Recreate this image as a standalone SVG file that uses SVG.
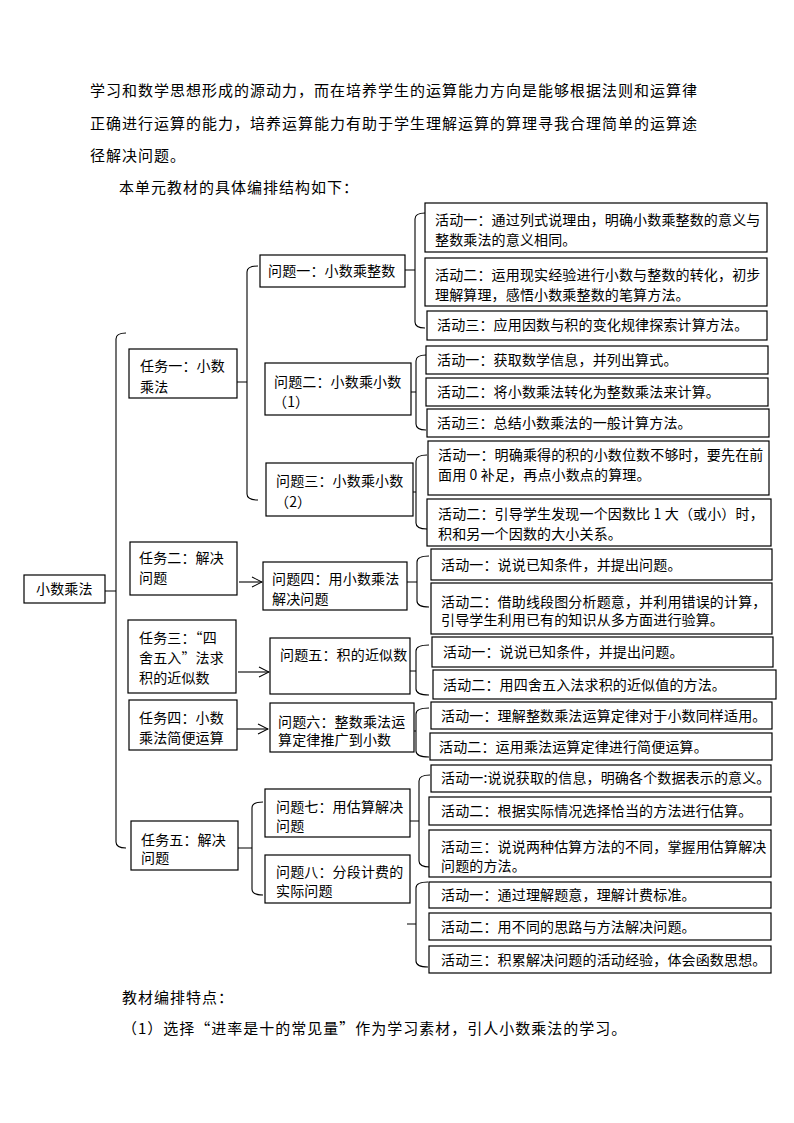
<svg xmlns="http://www.w3.org/2000/svg" width="794" height="1123" viewBox="0 0 794 1123">
<defs>
<style>
text{font-family:"Noto Sans CJK SC","Noto Sans",sans-serif;fill:#000}
.b{font-size:15px;letter-spacing:1px}
.t{font-size:14px;letter-spacing:0.15px}
.box{fill:#fff;stroke:#000;stroke-width:1.2}
.ln{fill:none;stroke:#000;stroke-width:1.1}
</style>
<marker id="arr" markerUnits="userSpaceOnUse" markerWidth="12" markerHeight="12" refX="11" refY="6" orient="auto">
<path d="M1,1 L11,6 L1,11" fill="none" stroke="#000" stroke-width="1.1"/>
</marker>
</defs>
<rect width="794" height="1123" fill="#fff"/>
<g id="body-text">
<text class="b" x="90" y="96">学习和数学思想形成的源动力，而在培养学生的运算能力方向是能够根据法则和运算律</text>
<text class="b" x="90" y="129">正确进行运算的能力，培养运算能力有助于学生理解运算的算理寻我合理简单的运算途</text>
<text class="b" x="90" y="161">径解决问题。</text>
<text class="b" x="119" y="193">本单元教材的具体编排结构如下：</text>
<text class="b" x="122" y="1003">教材编排特点：</text>
<text class="b" x="122" y="1034">（1）选择“进率是十的常见量”作为学习素材，引人小数乘法的学习。</text>
</g>
<g id="connectors">
<path class="ln" d="M126,333 Q116,333 116,339 V842 Q116,848 126,848 M105,591 H116"/>
<path class="ln" d="M258,266 Q247,266 247,272 V494 Q247,500 258,500 M237,382 H247"/>
<path class="ln" d="M263,802 Q252,802 252,808 V889 Q252,895 263,895 M238,848 H252"/>
<path class="ln" d="M425,213 Q415,213 415,219 V322 Q415,328 425,328 M405,270 H415"/>
<path class="ln" d="M426,355 Q416,355 416,361 V424 Q416,430 426,430 M411,392 H416"/>
<path class="ln" d="M427,455 Q416,455 416,461 V523 Q416,529 427,529 M413,492 H416"/>
<path class="ln" d="M429,556 Q417,556 417,562 V601 Q417,607 429,607 M407,582 H417"/>
<path class="ln" d="M429,645 Q416,645 416,651 V689 Q416,695 429,695 M410,671 H416"/>
<path class="ln" d="M429,708 Q416,708 416,714 V751 Q416,757 429,757 M414,731 H416"/>
<path class="ln" d="M430,775 Q419,775 419,781 V861 Q419,867 430,867 M410,821 H419"/>
<path class="ln" d="M428,882 Q416,882 416,888 V961 Q416,967 428,967 M407,924 H416"/>
<path class="ln" d="M239,582 H262" marker-end="url(#arr)"/>
<path class="ln" d="M238,672 H269" marker-end="url(#arr)"/>
<path class="ln" d="M237,729 H268" marker-end="url(#arr)"/>
</g>
<g id="root"><rect class="box" x="24" y="575" width="81" height="28"/><text class="t" x="36" y="594">小数乘法</text></g>
<g id="task1"><rect class="box" x="129" y="349" width="108" height="49"/><text class="t" x="140" y="371">任务一：小数</text><text class="t" x="140" y="392">乘法</text></g>
<g id="task2"><rect class="box" x="130" y="542" width="107" height="53"/><text class="t" x="139" y="563">任务二：解决</text><text class="t" x="139" y="583">问题</text></g>
<g id="task3"><rect class="box" x="128" y="620" width="108" height="73"/><text class="t" x="139" y="643">任务三：“四</text><text class="t" x="139" y="663">舍五入”法求</text><text class="t" x="139" y="683">积的近似数</text></g>
<g id="task4"><rect class="box" x="129" y="700" width="108" height="50"/><text class="t" x="139" y="723">任务四：小数</text><text class="t" x="139" y="743">乘法简便运算</text></g>
<g id="task5"><rect class="box" x="131" y="821" width="107" height="49"/><text class="t" x="141" y="845">任务五：解决</text><text class="t" x="141" y="863">问题</text></g>
<g id="q1"><rect class="box" x="260" y="255" width="145" height="32"/><text class="t" x="268" y="276">问题一：小数乘整数</text></g>
<g id="q2"><rect class="box" x="265" y="363" width="146" height="52"/><text class="t" x="274" y="387">问题二：小数乘小数</text><text class="t" x="273" y="407">（1）</text></g>
<g id="q3"><rect class="box" x="266" y="463" width="147" height="53"/><text class="t" x="276" y="486">问题三：小数乘小数</text><text class="t" x="275" y="507">（2）</text></g>
<g id="q4"><rect class="box" x="263" y="562" width="144" height="48"/><text class="t" x="272" y="584">问题四：用小数乘法</text><text class="t" x="272" y="604">解决问题</text></g>
<g id="q5"><rect class="box" x="270" y="638" width="140" height="56"/><text class="t" x="280" y="660">问题五：积的近似数</text></g>
<g id="q6"><rect class="box" x="270" y="703" width="144" height="49"/><text class="t" x="278" y="727">问题六：整数乘法运</text><text class="t" x="278" y="745">算定律推广到小数</text></g>
<g id="q7"><rect class="box" x="265" y="789" width="145" height="48"/><text class="t" x="276" y="812">问题七：用估算解决</text><text class="t" x="276" y="831">问题</text></g>
<g id="q8"><rect class="box" x="265" y="855" width="145" height="48"/><text class="t" x="276" y="877">问题八：分段计费的</text><text class="t" x="276" y="896">实际问题</text></g>
<g id="a1"><rect class="box" x="425" y="203" width="342" height="49"/><text class="t" x="435" y="225">活动一：通过列式说理由，明确小数乘整数的意义与</text><text class="t" x="435" y="245">整数乘法的意义相同。</text></g>
<g id="a2"><rect class="box" x="425" y="258" width="342" height="48"/><text class="t" x="435" y="280">活动二：运用现实经验进行小数与整数的转化，初步</text><text class="t" x="435" y="300">理解算理，感悟小数乘整数的笔算方法。</text></g>
<g id="a3"><rect class="box" x="427" y="311" width="340" height="29"/><text class="t" x="437" y="330">活动三：应用因数与积的变化规律探索计算方法。</text></g>
<g id="b1"><rect class="box" x="426" y="346" width="342" height="28"/><text class="t" x="437" y="365">活动一：获取数学信息，并列出算式。</text></g>
<g id="b2"><rect class="box" x="426" y="378" width="342" height="28"/><text class="t" x="437" y="397">活动二：将小数乘法转化为整数乘法来计算。</text></g>
<g id="b3"><rect class="box" x="427" y="409" width="342" height="28"/><text class="t" x="437" y="428">活动三：总结小数乘法的一般计算方法。</text></g>
<g id="c1"><rect class="box" x="428" y="441" width="341" height="54"/><text class="t" x="438" y="460">活动一：明确乘得的积的小数位数不够时，要先在前</text><text class="t" x="438" y="480">面用 0 补足，再点小数点的算理。</text></g>
<g id="c2"><rect class="box" x="427" y="499" width="344" height="47"/><text class="t" x="438" y="519">活动二：引导学生发现一个因数比 1 大（或小）时，</text><text class="t" x="438" y="539">积和另一个因数的大小关系。</text></g>
<g id="d1"><rect class="box" x="431" y="549" width="341" height="31"/><text class="t" x="441" y="570">活动一：说说已知条件，并提出问题。</text></g>
<g id="d2"><rect class="box" x="431" y="583" width="341" height="51"/><text class="t" x="441" y="607">活动二：借助线段图分析题意，并利用错误的计算，</text><text class="t" x="441" y="625">引导学生利用已有的知识从多方面进行验算。</text></g>
<g id="e1"><rect class="box" x="432" y="637" width="341" height="30"/><text class="t" x="443" y="657">活动一：说说已知条件，并提出问题。</text></g>
<g id="e2"><rect class="box" x="433" y="670" width="343" height="29"/><text class="t" x="443" y="690">活动二：用四舍五入法求积的近似值的方法。</text></g>
<g id="f1"><rect class="box" x="431" y="702" width="341" height="27"/><text class="t" x="441" y="721">活动一：理解整数乘法运算定律对于小数同样适用。</text></g>
<g id="f2"><rect class="box" x="430" y="733" width="342" height="27"/><text class="t" x="439" y="752">活动二：运用乘法运算定律进行简便运算。</text></g>
<g id="g1"><rect class="box" x="431" y="765" width="340" height="27"/><text class="t" x="441" y="783">活动一:说说获取的信息，明确各个数据表示的意义。</text></g>
<g id="g2"><rect class="box" x="429" y="797" width="342" height="28"/><text class="t" x="441" y="816">活动二：根据实际情况选择恰当的方法进行估算。</text></g>
<g id="g3"><rect class="box" x="429" y="830" width="342" height="47"/><text class="t" x="441" y="852">活动三：说说两种估算方法的不同，掌握用估算解决</text><text class="t" x="441" y="871">问题的方法。</text></g>
<g id="h1"><rect class="box" x="429" y="882" width="342" height="26"/><text class="t" x="441" y="900">活动一：通过理解题意，理解计费标准。</text></g>
<g id="h2"><rect class="box" x="429" y="913" width="342" height="27"/><text class="t" x="441" y="932">活动二：用不同的思路与方法解决问题。</text></g>
<g id="h3"><rect class="box" x="429" y="946" width="342" height="27"/><text class="t" x="441" y="965">活动三：积累解决问题的活动经验，体会函数思想。</text></g>
</svg>
